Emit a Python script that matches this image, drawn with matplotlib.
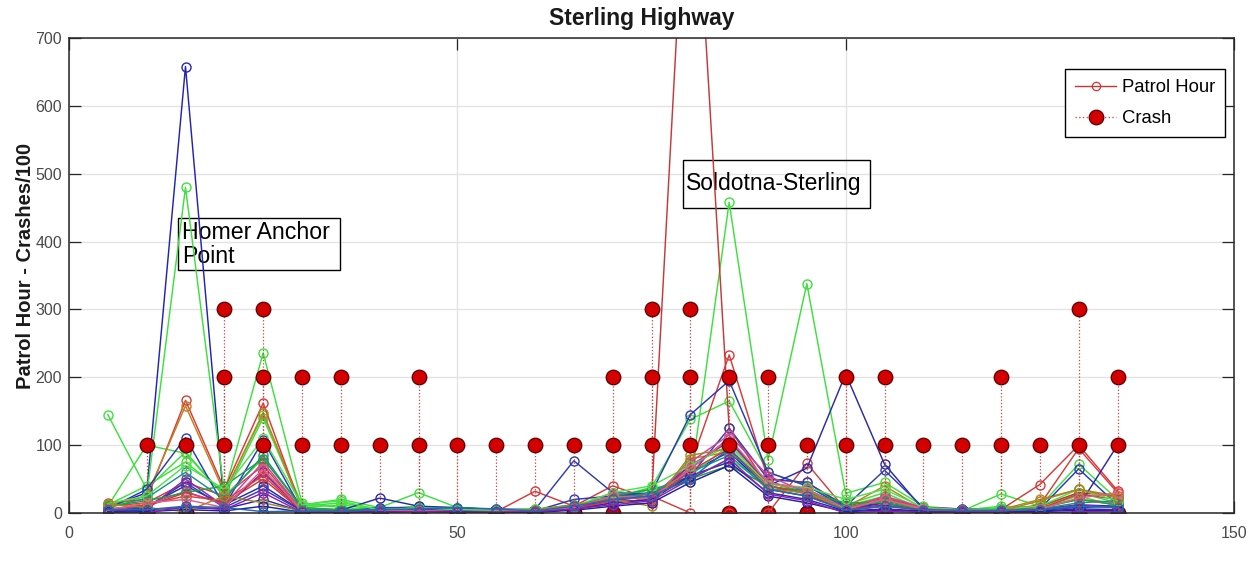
import matplotlib
matplotlib.use("Agg")
import matplotlib.pyplot as plt
from matplotlib.lines import Line2D
from matplotlib.patches import Rectangle
import numpy as np

plt.rcParams['font.family'] = ['Liberation Sans', 'DejaVu Sans']

# Milepost positions shared by all patrol-hour series
mileposts = list(range(5, 140, 5))

# Patrol hours per milepost, one list per period
ph_01 = [8, 30, 658, 8, 60, 5, 4, 3, 6, 4, 3, 3, 10, 20, 25, 60, 90, 35, 25, 5, 15, 5, 4, 4, 6, 12, 10]
ph_02 = [10, 25, 480, 30, 145, 12, 20, 8, 30, 8, 5, 5, 10, 20, 30, 55, 100, 45, 30, 8, 20, 6, 4, 10, 8, 30, 15]
ph_03 = [145, 35, 90, 25, 80, 10, 15, 6, 10, 5, 4, 6, 8, 20, 35, 45, 458, 78, 338, 29, 45, 10, 5, 8, 10, 20, 12]
ph_04 = [10, 100, 88, 25, 140, 8, 12, 5, 8, 5, 3, 4, 10, 18, 30, 50, 80, 40, 30, 10, 25, 5, 4, 6, 8, 25, 10]
ph_05 = [12, 40, 75, 30, 236, 15, 8, 5, 8, 4, 3, 4, 8, 22, 38, 138, 165, 60, 40, 12, 30, 5, 3, 28, 10, 72, 20]
ph_06 = [15, 20, 166, 35, 162, 5, 3, 2, 4, 3, 2, 32, 10, 40, 20, 70, 233, 50, 45, 10, 22, 8, 5, 5, 42, 100, 33]
ph_07 = [5, 10, 30, 15, 50, 3, 2, 2, 3, 2, 2, 4, 6, 15, 20, 1080, 125, 40, 30, 5, 10, 6, 3, 4, 10, 30, 25]
ph_08 = [10, 15, 45, 25, 70, 4, 3, 2, 3, 2, 2, 3, 8, 25, 25, 0, 0, 0, 73, 5, 20, 8, 6, 3, 12, 95, 30]
ph_09 = [12, 25, 158, 30, 148, 6, 5, 3, 5, 3, 2, 4, 8, 30, 15, 80, 90, 45, 30, 8, 40, 6, 4, 5, 20, 35, 25]
ph_10 = [6, 35, 111, 10, 107, 4, 3, 4, 5, 3, 2, 3, 20, 25, 30, 145, 195, 60, 40, 8, 15, 4, 3, 4, 6, 65, 12]
ph_11 = [4, 10, 40, 12, 40, 3, 4, 22, 10, 8, 5, 3, 8, 20, 25, 65, 110, 40, 66, 205, 72, 5, 4, 3, 3, 10, 100]
ph_12 = [3, 8, 45, 8, 35, 3, 2, 8, 8, 4, 6, 5, 77, 30, 28, 55, 125, 50, 45, 10, 63, 8, 6, 4, 5, 8, 10]
ph_13 = [2, 5, 50, 10, 60, 3, 2, 3, 4, 2, 2, 4, 8, 18, 25, 70, 105, 45, 35, 6, 12, 4, 3, 2, 4, 12, 8]
ph_14 = [3, 12, 32, 12, 75, 4, 3, 2, 5, 3, 2, 3, 10, 22, 22, 75, 115, 55, 30, 5, 25, 8, 4, 3, 8, 20, 15]
ph_15 = [8, 22, 60, 20, 85, 6, 4, 3, 8, 6, 4, 5, 12, 20, 30, 60, 85, 35, 35, 8, 18, 6, 5, 6, 6, 15, 18]
ph_16 = [10, 18, 30, 40, 80, 8, 5, 4, 6, 5, 3, 3, 10, 25, 35, 50, 70, 40, 30, 15, 15, 5, 3, 5, 7, 20, 12]
ph_17 = [6, 12, 25, 18, 55, 3, 2, 2, 3, 2, 2, 4, 6, 18, 18, 62, 95, 40, 28, 4, 10, 4, 3, 3, 6, 28, 20]
ph_18 = [2, 4, 8, 6, 20, 2, 2, 4, 5, 3, 2, 2, 5, 15, 20, 55, 75, 30, 20, 3, 6, 3, 2, 2, 3, 6, 5]
ph_19 = [14, 25, 70, 35, 110, 12, 18, 4, 8, 5, 4, 6, 10, 30, 40, 70, 100, 42, 38, 20, 35, 8, 5, 6, 10, 35, 18]
ph_20 = [13, 8, 2, 25, 15, 3, 2, 2, 3, 2, 2, 5, 12, 20, 10, 85, 95, 35, 30, 5, 20, 5, 3, 3, 18, 35, 22]
ph_21 = [4, 15, 20, 8, 65, 3, 2, 3, 4, 2, 2, 3, 8, 25, 22, 65, 110, 45, 35, 6, 20, 6, 4, 3, 6, 22, 30]
ph_22 = [1, 2, 5, 3, 10, 1, 1, 2, 2, 2, 1, 1, 4, 10, 15, 45, 70, 25, 15, 2, 4, 2, 1, 1, 2, 4, 3]
ph_23 = [0, 0, 10, 5, 30, 1, 1, 1, 2, 1, 1, 2, 6, 12, 18, 50, 80, 28, 18, 0, 3, 1, 1, 1, 0, 2, 2]
ph_24 = [5, 5, 10, 8, 2, 3, 3, 5, 6, 8, 6, 3, 10, 20, 25, 50, 95, 35, 25, 4, 10, 5, 4, 4, 5, 10, 8]

patrol_series = [ph_01, ph_02, ph_03, ph_04, ph_05, ph_06, ph_07, ph_08,
                 ph_09, ph_10, ph_11, ph_12, ph_13, ph_14, ph_15, ph_16,
                 ph_17, ph_18, ph_19, ph_20, ph_21, ph_22, ph_23, ph_24]
patrol_colors = ['#2424b4', '#3ee03e', '#3ee03e', '#3ee03e', '#3ee03e', '#d83a3a',
                 '#c83838', '#d04040', '#c08020', '#2a3ab8', '#2a2aa8', '#3040b0',
                 '#8a28a8', '#d040a0', '#20908c', '#20a040', '#d83a3a', '#2828b0',
                 '#50e050', '#a08a20', '#e06080', '#2020a0', '#9020b0', '#2468b0']

# Crash counts (x100) per milepost, one list per year
crash_x = list(range(10, 140, 5))
crash_y1 = [100] * len(crash_x)
crash_y2 = [0, 0, 200, 200, 200, 200, 0, 200, 0, 0, 0, 0, 200, 200, 200, 200,
            200, 0, 200, 200, 0, 0, 200, 0, 0, 200]
crash_y3 = [0, 0, 300, 300, 0, 0, 0, 0, 0, 0, 0, 0, 0, 300, 300, 0,
            0, 0, 0, 0, 0, 0, 0, 0, 300, 0]
crash_series = [crash_y1, crash_y2, crash_y3]

W, H = 1256, 571
fig = plt.figure(figsize=(W / 100, H / 100), dpi=100)
ax = fig.add_axes([69 / W, 1 - 513 / H, (1234 - 69) / W, (513 - 38) / H])

for vals, col in zip(patrol_series, patrol_colors):
    ax.plot(mileposts, vals, '-o', color=col, lw=1.05, ms=6.5,
            mfc='none', mew=1.0, zorder=3)

crash_face = '#d40000'
crash_edge = '#5a0000'
for vals in crash_series:
    xs = np.array(crash_x)
    vs = np.array(vals)
    ax.vlines(xs, 0, vs, colors='#c84040', linestyles=':', lw=0.9, zorder=4)
    hit = vs > 0
    # zero-count years sit on the baseline, beneath the patrol markers
    ax.plot(xs[~hit], vs[~hit], 'o', ms=10.5, mfc=crash_face, mec=crash_edge,
            mew=0.9, ls='none', zorder=2)
    ax.plot(xs[hit], vs[hit], 'o', ms=10.5, mfc=crash_face, mec=crash_edge,
            mew=0.9, ls='none', zorder=5)

ax.set_xlim(0, 150)
ax.set_ylim(0, 700)
ax.set_xticks([0, 50, 100, 150])
ax.set_yticks(range(0, 701, 100))
ax.grid(True, color='#e3e3e3', lw=1.0, zorder=0)
ax.set_axisbelow(True)
for s in ax.spines.values():
    s.set_color('#262626')
    s.set_linewidth(1.1)
    s.set_zorder(6)
ax.tick_params(direction='in', top=True, right=True, length=8.5, width=0.9,
               colors='#262626', labelcolor='#4a4a4a', labelsize=11.5)
ax.tick_params(axis='x', pad=9)
ax.tick_params(axis='y', pad=5)

ax.set_ylabel('Patrol Hour - Crashes/100', fontsize=14.5, fontweight='bold',
              color='#1a1a1a')
ax.yaxis.set_label_coords(-(69 - 35) / (1234 - 69), 0.52)

fig.text(642 / W, 1 - 19 / H, 'Sterling Highway', fontsize=16.5,
         fontweight='bold', ha='center', va='center', color='#1a1a1a')

# Segment annotation boxes (unfilled, the traces show through)
ax.add_patch(Rectangle((14.05, 358), 20.85, 76.5, fc='none', ec='black',
                       lw=1.0, zorder=2.5))
ax.text(14.6, 431, 'Homer Anchor\nPoint', fontsize=16.7, ha='left', va='top',
        linespacing=1.1, zorder=2.5)
ax.add_patch(Rectangle((79.05, 449.5), 24.05, 70.7, fc='none', ec='black',
                       lw=1.0, zorder=2.5))
ax.text(79.45, 485, 'Soldotna-Sterling', fontsize=16.5, ha='left',
        va='center', zorder=2.5)

handles = [
    Line2D([], [], color='#cc3333', lw=1.0, marker='o', ms=6, mfc='none',
           mew=0.9),
    Line2D([], [], color='#cc5555', lw=1.0, ls=':', marker='o', ms=10.5,
           mfc=crash_face, mec=crash_edge, mew=0.9),
]
leg = ax.legend(handles, ['Patrol Hour', 'Crash'], loc='upper right',
                bbox_to_anchor=(1 - 9 / 1165, 1 - 31 / 475), borderaxespad=0,
                fontsize=13.3, frameon=True, fancybox=False, framealpha=1,
                edgecolor='black', handlelength=2.2, handletextpad=0.3,
                borderpad=0.55, labelspacing=0.75)
leg.get_frame().set_linewidth(1.0)
leg.set_zorder(9)

fig.savefig('out.png', dpi=100, facecolor='white')
